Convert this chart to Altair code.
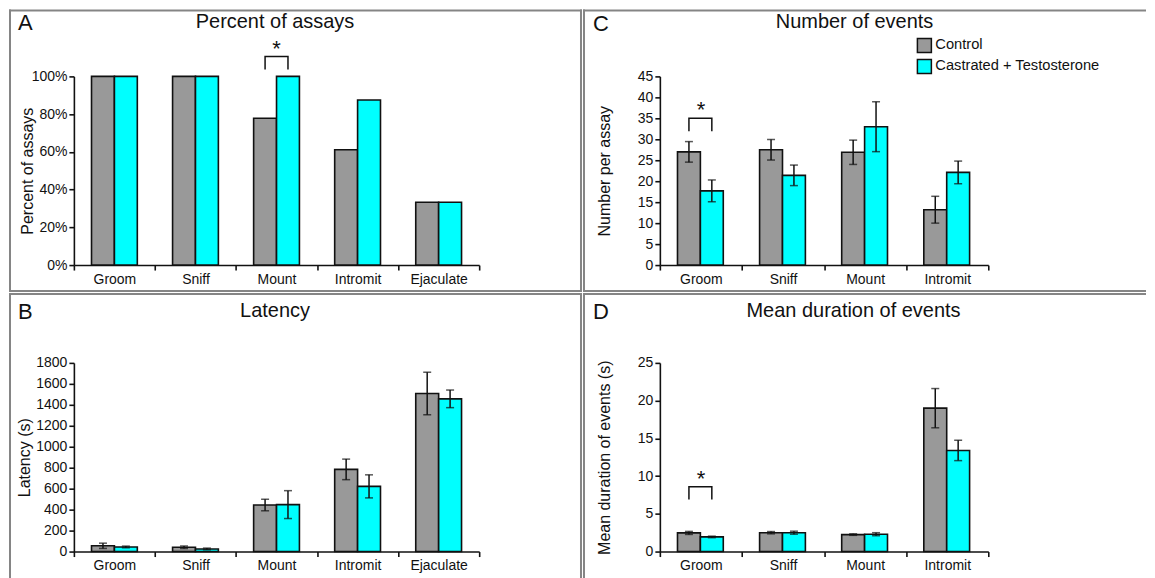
import altair as alt
import pandas as pd

FONT = "Liberation Sans"
CATS5 = ["Groom", "Sniff", "Mount", "Intromit", "Ejaculate"]
CATS4 = ["Groom", "Sniff", "Mount", "Intromit"]
GROUPS = ["Control", "Castrated + Testosterone"]
COLORS = ["#999999", "#00ffff"]

# Panel A: percent of assays
pct_control = [100, 100, 77.8, 61.1, 33.3]
pct_treated = [100, 100, 100, 87.5, 33.3]

# Panel B: latency (s)
lat_control = [55, 41, 444, 784, 1508]
lat_control_err = [25, 12, 55, 98, 203]
lat_treated = [44, 25, 448, 622, 1457]
lat_treated_err = [8, 8, 133, 110, 84]

# Panel C: number per assay
num_control = [27.0, 27.5, 26.9, 13.2]
num_control_err = [2.45, 2.45, 2.9, 3.2]
num_treated = [17.7, 21.4, 33.0, 22.1]
num_treated_err = [2.6, 2.45, 5.95, 2.7]

# Panel D: mean duration of events (s)
dur_control = [2.47, 2.5, 2.25, 19.0]
dur_control_err = [0.2, 0.15, 0.1, 2.6]
dur_treated = [1.94, 2.5, 2.3, 13.4]
dur_treated_err = [0.1, 0.2, 0.2, 1.35]

# significance brackets: category, leg bottom, bracket top, star centre
sig_A = ["Mount", 103.7, 110.6, 116.0]
sig_C = ["Groom", 31.9, 35.0, 37.6]
sig_D = ["Groom", 6.9, 8.6, 10.05]

INK = "#111111"


def make_df(cats, ctrl, trt, ctrl_err=None, trt_err=None):
    rows = []
    for i, c in enumerate(cats):
        for g, vals, errs in ((GROUPS[0], ctrl, ctrl_err), (GROUPS[1], trt, trt_err)):
            e = errs[i] if errs else 0
            rows.append({"cat": c, "group": g, "value": vals[i], "err": e,
                         "lo": vals[i] - e, "hi": vals[i] + e})
    return pd.DataFrame(rows)


def frame_line(x1, x2, y1, y2):
    enc = dict(x=alt.value(x1), y=alt.value(y1))
    if x2 is not None:
        enc["x2"] = alt.value(x2)
    if y2 is not None:
        enc["y2"] = alt.value(y2)
    return alt.Chart(pd.DataFrame({"k": [0]})).mark_rule(
        color="#858585", strokeWidth=2, strokeCap="square").encode(**enc)


def panel(cats, df, ymax, ystep, ytitle, title, letter, g, sig=None,
          legend=False, pct=False):
    xs = alt.Scale(domain=cats, paddingInner=0, paddingOuter=0)
    ys = alt.Scale(domain=[0, ymax], nice=False)
    xo = alt.XOffset("group:N", sort=GROUPS,
                     scale=alt.Scale(domain=GROUPS, paddingInner=0, paddingOuter=g["po"]))
    yaxis_kw = dict(values=list(range(0, ymax + 1, ystep)), title=ytitle,
                    titleX=g["tx"], titleBaseline="alphabetic", titleAngle=270,
                    titleFont=FONT, titleFontSize=16, titleFontWeight="normal",
                    titleColor=INK, labelFont=FONT, labelFontSize=14, labelColor=INK,
                    format="d")
    if pct:
        yaxis_kw["labelExpr"] = "datum.value + '%'"
    xaxis = alt.Axis(title=None, tickBand="extent", labelAngle=0, labelFont=FONT,
                     labelFontSize=14, labelColor=INK, labelPadding=2)
    yaxis = alt.Axis(**yaxis_kw)

    def X():
        return alt.X("cat:N", sort=cats, scale=xs, axis=xaxis)

    def Y(f):
        return alt.Y(f, scale=ys, axis=yaxis, title=ytitle)

    if legend:
        color = alt.Color("group:N", sort=GROUPS,
                          scale=alt.Scale(domain=GROUPS, range=COLORS),
                          legend=alt.Legend(orient="none", legendX=g["lgx"], legendY=g["lgy"],
                                            title=None,
                                            symbolType="square", symbolSize=196,
                                            symbolStrokeColor=INK, symbolStrokeWidth=1.5,
                                            symbolOpacity=1, labelFont=FONT, labelFontSize=14.7,
                                            labelColor=INK, labelOffset=3, rowPadding=1,
                                            labelLimit=400, padding=0, offset=0))
    else:
        color = alt.Color("group:N", sort=GROUPS,
                          scale=alt.Scale(domain=GROUPS, range=COLORS), legend=None)

    bars = alt.Chart(df).mark_bar(stroke=INK, strokeWidth=1.6, opacity=1).encode(
        x=X(), xOffset=xo, y=Y("value:Q"), color=color)
    layers = [bars]
    edf = df[df["err"] > 0]
    if len(edf):
        rule = alt.Chart(edf).mark_rule(color=INK, strokeWidth=1.5).encode(
            x=X(), xOffset=xo, y=Y("lo:Q"), y2="hi:Q")
        caps_lo = alt.Chart(edf).mark_tick(color=INK, size=8, thickness=1.5).encode(
            x=X(), xOffset=xo, y=Y("lo:Q"))
        caps_hi = alt.Chart(edf).mark_tick(color=INK, size=8, thickness=1.5).encode(
            x=X(), xOffset=xo, y=Y("hi:Q"))
        layers += [rule, caps_lo, caps_hi]
    if sig:
        c, lo, top, star = sig
        bdf = pd.DataFrame({"cat": [c] * 4,
                            "group": [GROUPS[0], GROUPS[0], GROUPS[1], GROUPS[1]],
                            "y": [lo, top, top, lo], "o": [1, 2, 3, 4]})
        br = alt.Chart(bdf).mark_line(color=INK, strokeWidth=1.5).encode(
            x=X(), xOffset=xo, y=Y("y:Q"), order="o:Q")
        sdf = pd.DataFrame({"cat": [c], "y": [star], "t": ["*"]})
        st = alt.Chart(sdf).mark_text(font=FONT, fontSize=22, baseline="alphabetic",
                                      dy=10, color=INK).encode(
            x=X(), y=Y("y:Q"), text="t:N")
        layers += [br, st]
    for seg in g["frame"]:
        layers.append(frame_line(*seg))
    tdf = pd.DataFrame({"t": [title]})
    ttl = alt.Chart(tdf).mark_text(font=FONT, fontSize=20, align="center",
                                   baseline="alphabetic", color=INK).encode(
        x=alt.value(g["ttx"]), y=alt.value(g["tty"]), text="t:N")
    ldf = pd.DataFrame({"t": [letter]})
    let = alt.Chart(ldf).mark_text(font=FONT, fontSize=22, align="left",
                                   baseline="alphabetic", color=INK).encode(
        x=alt.value(g["lx"]), y=alt.value(g["ly"]), text="t:N")
    layers += [ttl, let]
    return alt.layer(*layers).properties(width=g["w"], height=g["h"])


# frame segments (x1, x2, y1, y2) relative to each plot area, in pixels
gA = dict(w=406, h=189, po=0.77, tx=-41, lx=-56, ly=-46, ttx=201.5, tty=-48,
          frame=[(-64, 508, -66, None), (-64, 508, 215, None),
                 (-64, None, -66, 215), (508, None, -66, 215)])
gB = dict(w=406, h=189, po=0.77, tx=-44.6, lx=-56, ly=-44, ttx=201.5, tty=-45.5,
          frame=[(-64, 508, -69, None), (-64, None, -69, 230), (508, None, -69, 230)])
gC = dict(w=329, h=189, po=0.69, tx=-50, lx=-67, ly=-45.5, ttx=195, tty=-48,
          lgx=257, lgy=-39,
          frame=[(-76, 486, -66, None), (-76, 486, 215, None), (-76, None, -66, 215)])
gD = dict(w=329, h=189, po=0.69, tx=-50, lx=-67, ly=-44, ttx=194, tty=-46,
          frame=[(-76, 486, -69, None), (-76, None, -69, 230)])

pA = panel(CATS5, make_df(CATS5, pct_control, pct_treated), 100, 20,
           "Percent of assays", "Percent of assays", "A", gA, sig=sig_A, pct=True)
pB = panel(CATS5, make_df(CATS5, lat_control, lat_treated, lat_control_err, lat_treated_err),
           1800, 200, "Latency (s)", "Latency", "B", gB)
pC = panel(CATS4, make_df(CATS4, num_control, num_treated, num_control_err, num_treated_err),
           45, 5, "Number per assay", "Number of events", "C", gC, sig=sig_C, legend=True)
pD = panel(CATS4, make_df(CATS4, dur_control, dur_treated, dur_control_err, dur_treated_err),
           25, 5, "Mean duration of events (s)", "Mean duration of events", "D", gD, sig=sig_D)

chart = alt.concat(pA, pC, pB, pD, columns=2, spacing={"row": 98, "column": 181},
                   bounds="flush").resolve_scale(color="independent").properties(
    padding=0
).configure_view(stroke="transparent").configure_axis(
    grid=False, domainColor=INK, domainWidth=1.6, tickColor=INK,
    tickWidth=1.6, tickSize=5, labelPadding=2
)

chart.save("out.html", embed_options={"renderer": "svg", "actions": False})
